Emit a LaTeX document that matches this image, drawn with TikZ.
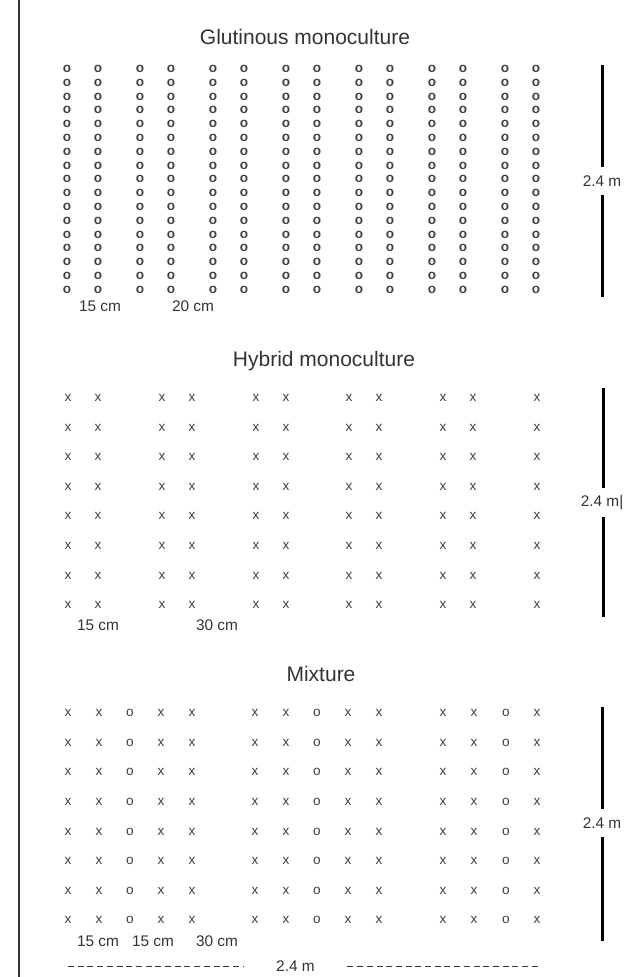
\documentclass[tikz,border=0pt]{standalone}
\usepackage{fontspec}
\setmainfont{Liberation Sans}
\usepackage{tikz}
\usetikzlibrary{positioning}

\definecolor{ink}{HTML}{333333}
\definecolor{plantgray}{HTML}{404040}

\begin{document}
\begin{tikzpicture}[x=0.5pt,y=-0.5pt,
    title/.style={font=\fontsize{10.5}{12}\selectfont, text=ink, inner sep=0pt, anchor=base},
    dist/.style={font=\fontsize{7.7}{9}\selectfont, text=ink, inner sep=0pt, anchor=base},
    plant/.style={font=\fontsize{6.8}{7}\selectfont, text=plantgray, inner sep=0pt},
    ring/.style={plant, font=\fontsize{6.8}{7}\selectfont\bfseries},
    barlabel/.style={font=\fontsize{7.7}{9}\selectfont, text=ink, inner sep=0pt, minimum height=14pt},
    bar/.style={line width=1.5pt, black},
    ]
    \useasboundingbox (0,0) rectangle (629,977);
    \coordinate (edgetop) at (19,0);
    \coordinate (edgebot) at (19,977);
    \draw[line width=1pt, ink] (edgetop) -- (edgebot);

    % glutinous monoculture
    \node[title] (gtitle) at (305,45) {Glutinous monoculture};
    \foreach \p in {0,...,6}
        \foreach \k in {0,...,16} {
            \node[ring] (g\p a\k) at (67+73*\p, 69+13.8*\k) {o};
            \node[ring] (g\p b\k) at (98+73*\p, 69+13.8*\k) {o};
        }
    \node[dist] (g15) at (100,311.5) {15 cm};
    \node[dist] (g20) at (193,311.5) {20 cm};
    \coordinate (gtop) at (602,65);
    \coordinate (gbot) at (602,297);
    \node[barlabel] (glen) at (602,181) {2.4 m};
    \draw[bar] (gtop) -- (glen.north) (glen.south) -- (gbot);

    % hybrid monoculture
    \node[title] (htitle) at (324,367) {Hybrid monoculture};
    \foreach \x in {68,98,162,192,256,286,349,379,443,473,537}
        \foreach \k in {0,...,7}
            \node[plant] (h\x-\k) at (\x, 398+29.6*\k) {x};
    \node[dist] (h15) at (98,630) {15 cm};
    \node[dist] (h30) at (217,630) {30 cm};
    \coordinate (htop) at (603,388);
    \coordinate (hbot) at (603,617);
    \node[barlabel] (hlen) at (602,502.5) {2.4 m|};
    \draw[bar] (htop) -- (htop |- hlen.north) (htop |- hlen.south) -- (hbot);

    % mixture
    \node[title] (mtitle) at (321,681) {Mixture};
    \foreach \x/\sym in {68/x,99/x,130/o,161/x,192/x,255/x,286/x,317/o,348/x,379/x,443/x,474/x,506/o,537/x}
        \foreach \k in {0,...,7}
            \node[plant] (m\x-\k) at (\x, 713+29.6*\k) {\sym};
    \node[dist] (m15a) at (98,946) {15 cm};
    \node[dist] (m15b) at (153,946) {15 cm};
    \node[dist] (m30) at (217,946) {30 cm};
    \coordinate (mtop) at (602,707);
    \coordinate (mbot) at (602,941);
    \node[barlabel] (mlen) at (602,823) {2.4 m};
    \draw[bar] (mtop) -- (mlen.north) (mlen.south) -- (mbot);

    % plot width
    \coordinate (wleft) at (68,966);
    \coordinate (wright) at (540,966);
    \node[barlabel, minimum width=51.5pt] (wlen) at (295.5,966) {2.4 m};
    \draw[line width=0.5pt, ink, dash pattern=on 3pt off 1.85pt] (wleft) -- (wlen.west) (wlen.east) -- (wright);
\end{tikzpicture}
\end{document}
